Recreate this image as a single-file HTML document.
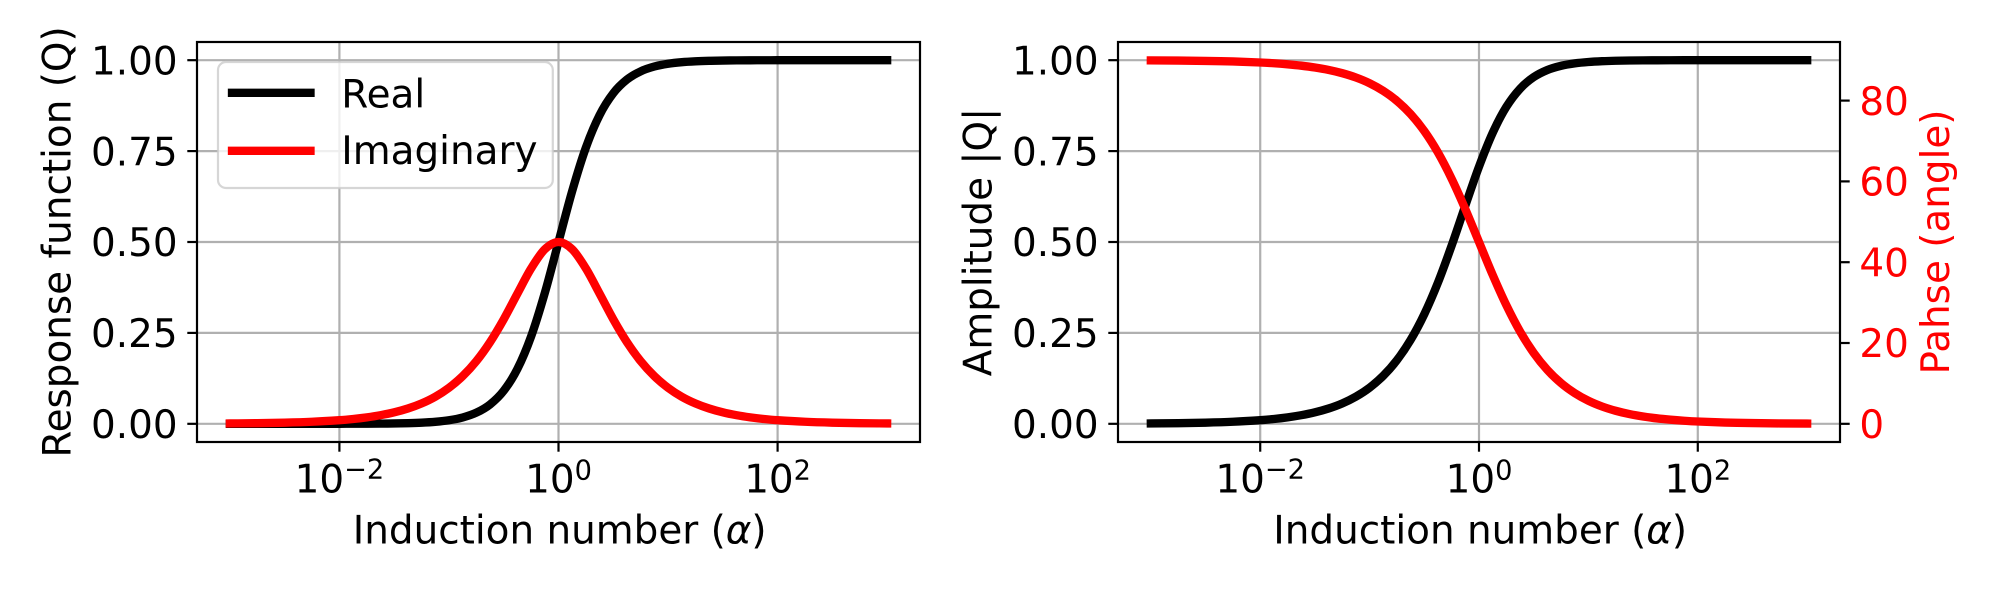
<!DOCTYPE html>
<html lang="en">
<head>
<meta charset="utf-8">
<title>Response function and amplitude/phase versus induction number</title>
<style>
html,body{margin:0;padding:0;background:#fff;}
svg{display:block;font-family:"DejaVu Sans","Liberation Sans",sans-serif;}
text{fill:#000;}
</style>
</head>
<body>
<svg id="figure" xmlns="http://www.w3.org/2000/svg" width="2000" height="600" viewBox="0 0 2000 600">
  <rect width="2000" height="600" fill="#fff"/>
  <g id="left-panel"></g>
  <g id="right-panel"></g>
</svg>
<script>
// log10 of induction number
const logAlpha = [-3,-2.75,-2.5,-2.25,-2,-1.875,-1.75,-1.625,-1.5,-1.375,-1.25,-1.125,-1,-0.875,-0.75,-0.625,-0.5,-0.375,-0.25,-0.125,0,0.125,0.25,0.375,0.5,0.625,0.75,0.875,1,1.125,1.25,1.375,1.5,1.625,1.75,1.875,2,2.25,2.5,2.75,3];
const realValues = [0,0,0.00001,0.00003,0.0001,0.00018,0.00032,0.00056,0.001,0.00178,0.00315,0.00559,0.0099,0.01747,0.03065,0.05324,0.09091,0.15098,0.24025,0.35993,0.5,0.64007,0.75975,0.84902,0.90909,0.94676,0.96935,0.98253,0.9901,0.99441,0.99685,0.99822,0.999,0.99944,0.99968,0.99982,0.9999,0.99997,0.99999,1,1];
const imaginaryValues = [0.001,0.00178,0.00316,0.00562,0.01,0.01333,0.01778,0.0237,0.03159,0.0421,0.05606,0.07457,0.09901,0.13102,0.17238,0.22451,0.28748,0.35803,0.42723,0.47998,0.5,0.47998,0.42723,0.35803,0.28748,0.22451,0.17238,0.13102,0.09901,0.07457,0.05606,0.0421,0.03159,0.0237,0.01778,0.01333,0.01,0.00562,0.00316,0.00178,0.001];
const amplitudeValues = [0.001,0.00178,0.00316,0.00562,0.01,0.01333,0.01778,0.02371,0.03161,0.04213,0.05612,0.07477,0.0995,0.13218,0.17507,0.23074,0.30151,0.38856,0.49015,0.59994,0.70711,0.80004,0.87164,0.92142,0.95346,0.97302,0.98455,0.99123,0.99504,0.9972,0.99842,0.99911,0.9995,0.99972,0.99984,0.99991,0.99995,0.99998,0.99999,1,1];
const phaseValues = [89.94,89.9,89.82,89.68,89.43,89.24,88.98,88.64,88.19,87.59,86.78,85.71,84.29,82.4,79.92,76.66,72.45,67.13,60.65,53.14,45,36.86,29.35,22.87,17.55,13.34,10.08,7.6,5.71,4.29,3.22,2.41,1.81,1.36,1.02,0.76,0.57,0.32,0.18,0.1,0.06];

const xTickExponents = [-2,0,2];
const xTickLabels = ["\u22122","0","2"];
const yTickValues = [0,0.25,0.5,0.75,1];
const yTickLabels = ["0.00","0.25","0.50","0.75","1.00"];
const phaseTickValues = [0,20,40,60,80];
const phaseTickLabels = ["0","20","40","60","80"];
const legendLabels = ["Real","Imaginary"];

const SVGNS = "http://www.w3.org/2000/svg";
const TOP = 42, BOTTOM = 442, FS = 38.9, LW = 8.33, SPINE = 2.2, TICK = 9.7;
const GRID = "#b0b0b0";

function make(parent, tag, attrs, content) {
  const el = document.createElementNS(SVGNS, tag);
  for (const k in attrs) el.setAttribute(k, attrs[k]);
  if (content !== undefined) el.textContent = content;
  parent.appendChild(el);
  return el;
}
// axis functions
function xScale(left, right, exp) { return left + (right - left) * (exp + 3.3) / 6.6; }
function yScale(v) { return BOTTOM - (v + 0.05) / 1.1 * (BOTTOM - TOP); }
function phaseScale(v) { return BOTTOM - (v + 4.5) / 99 * (BOTTOM - TOP); }

function drawGridAndTicks(g, left, right) {
  xTickExponents.forEach(function (exp, i) {
    const x = xScale(left, right, exp);
    const grid = make(g, "line", {x1:x, x2:x, y1:TOP, y2:BOTTOM, stroke:GRID, "stroke-width":SPINE});
    
    
    const tick = make(g, "line", {x1:x, x2:x, y1:BOTTOM, y2:BOTTOM + TICK, stroke:"#000", "stroke-width":SPINE});
    
    
    const sup = xTickLabels[i];
    const base = FS * 1.272, supW = sup.length > 1 ? FS * 0.7 * 1.474 : FS * 0.7 * 0.636;
    const start = x - (base + supW) / 2;
    const label = make(g, "text", {x:start, y:492.3, "font-size":FS}, "10");
    
    
    const exponent = make(g, "text", {x:start + base, y:sup.length > 1 ? 478.3 : 479.6, "font-size":FS * 0.7}, sup);
    
    
  });
  yTickValues.forEach(function (v, i) {
    const y = yScale(v);
    const grid = make(g, "line", {x1:left, x2:right, y1:y, y2:y, stroke:GRID, "stroke-width":SPINE});
    
    
    const tick = make(g, "line", {x1:left - TICK, x2:left, y1:y, y2:y, stroke:"#000", "stroke-width":SPINE});
    
    
    const label = make(g, "text", {x:left - 19.4, y:y + 14.2, "font-size":FS, "text-anchor":"end"}, yTickLabels[i]);
    
    
  });
}
// smooth curve through every value in the series
function drawSeries(g, left, right, values, scale, color) {
  const px = logAlpha.map(function (e) { return xScale(left, right, e); });
  const py = values.map(function (v) { return scale(v); });
  let d = "M" + px[0].toFixed(2) + " " + py[0].toFixed(2);
  for (let i = 0; i < px.length - 1; i++) {
    const a = Math.max(i - 1, 0), b = Math.min(i + 2, px.length - 1);
    const h = px[i + 1] - px[i];
    const m0 = (py[i + 1] - py[a]) / (px[i + 1] - px[a]);
    const m1 = (py[b] - py[i]) / (px[b] - px[i]);
    d += " C" + (px[i] + h / 3).toFixed(2) + " " + (py[i] + m0 * h / 3).toFixed(2) +
         " " + (px[i + 1] - h / 3).toFixed(2) + " " + (py[i + 1] - m1 * h / 3).toFixed(2) +
         " " + px[i + 1].toFixed(2) + " " + py[i + 1].toFixed(2);
  }
  return make(g, "path", {d:d, fill:"none", stroke:color, "stroke-width":LW, "stroke-linecap":"square", "stroke-linejoin":"round"});
}
function drawFrame(g, left, right) {
  const frame = make(g, "rect", {x:left, y:TOP, width:right - left, height:BOTTOM - TOP, fill:"none", stroke:"#000", "stroke-width":SPINE});
  
  
}
function drawXLabel(g, cx) {
  const t = make(g, "text", {x:cx + 1.2, y:543.3, "font-size":FS, "text-anchor":"middle"});
  
  
  make(t, "tspan", {}, "Induction number (");
  make(t, "tspan", {"font-style":"italic"}, "\u03b1");
  make(t, "tspan", {}, ")");
}
function rotatedLabel(g, x, text, color) {
  const t = make(g, "text", {x:x, y:242, "font-size":FS, "text-anchor":"middle", transform:"rotate(-90 " + x + " 242)", style:"fill:" + color}, text);
  return t;
}

// ---- left panel ----
const L1 = 197, R1 = 920;
const left = document.getElementById("left-panel");
drawGridAndTicks(left, L1, R1);
const realLine = drawSeries(left, L1, R1, realValues, yScale, "#000");


const imagLine = drawSeries(left, L1, R1, imaginaryValues, yScale, "#f00");


drawFrame(left, L1, R1);
drawXLabel(left, (L1 + R1) / 2);
const yTitleLeft = rotatedLabel(left, 70.7, "Response function (Q)", "#000");



// legend
const legend = make(left, "g", {});


const legendBox = make(legend, "rect", {x:218, y:62, width:334.8, height:126, rx:8, ry:8, fill:"#fff", "fill-opacity":0.8, stroke:"#ccc", "stroke-opacity":0.8, "stroke-width":2.2});


const legendColors = ["#000", "#f00"];
const legendY = [92.8, 150.8];
const legendBaselines = [107.6, 164];
legendLabels.forEach(function (name, i) {
  const h = make(legend, "line", {x1:232, x2:310.5, y1:legendY[i], y2:legendY[i], stroke:legendColors[i], "stroke-width":LW, "stroke-linecap":"square"});
  
  
  const t = make(legend, "text", {x:341.3, y:legendBaselines[i], "font-size":FS}, name);
  
  
});

// ---- right panel ----
const L2 = 1118, R2 = 1840;
const right = document.getElementById("right-panel");
drawGridAndTicks(right, L2, R2);
const ampLine = drawSeries(right, L2, R2, amplitudeValues, yScale, "#000");


const phaseLine = drawSeries(right, L2, R2, phaseValues, phaseScale, "#f00");


drawFrame(right, L2, R2);
phaseTickValues.forEach(function (v, i) {
  const y = phaseScale(v);
  const tick = make(right, "line", {x1:R2, x2:R2 + TICK, y1:y, y2:y, stroke:"#000", "stroke-width":SPINE});
  
  
  const label = make(right, "text", {x:R2 + 19.4, y:y + 14.2, "font-size":FS, style:"fill:#f00"}, phaseTickLabels[i]);
  
  
});
drawXLabel(right, (L2 + R2) / 2);
const yTitleRight = rotatedLabel(right, 991.7, "Amplitude |Q|", "#000");


const yTitlePhase = rotatedLabel(right, 1949, "Pahse (angle)", "#f00");


</script>
</body>
</html>
